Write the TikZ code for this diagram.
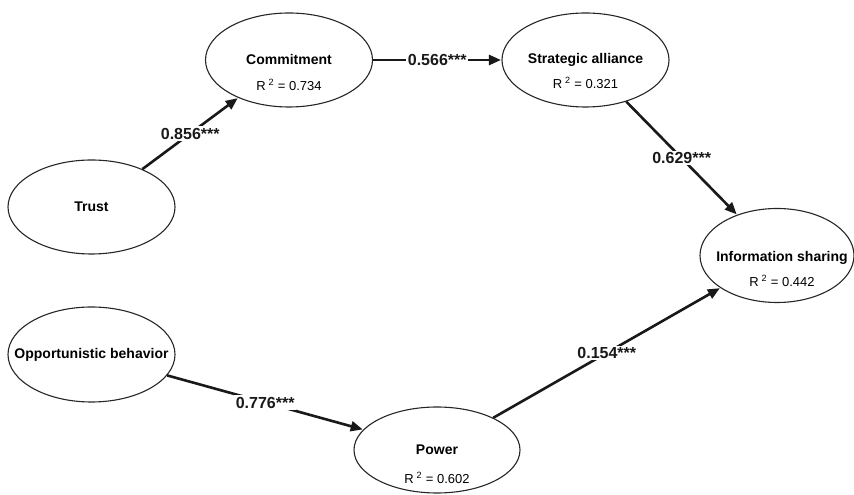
\documentclass[tikz,border=0pt]{standalone}
\usepackage{fontspec}
\setmainfont{Liberation Sans}
\usetikzlibrary{arrows.meta,shapes.geometric}

\tikzset{
  latent/.style={ellipse, draw=black!85, line width=1.1pt, inner sep=0pt,
    minimum width=167pt, minimum height=94pt, font=\bfseries\fontsize{14}{16}\selectfont},
  rsq/.style={inner sep=0pt, font=\fontsize{13}{15}\selectfont},
  path/.style={line width=2.6pt, draw=black!90,
    -{Triangle[length=12pt,width=10pt]}, shorten >=0.5pt},
  coef/.style={fill=white, inner sep=1.5pt, text=black!90,
    font=\bfseries\fontsize{16}{18}\selectfont}
}

\begin{document}
\begin{tikzpicture}[x=1pt,y=1pt]
  \useasboundingbox (0,0) rectangle (854,495);
  \clip (0,0) rectangle (854,495);

  % latent constructs
  \node[latent] (commit) at (289,435)   {\makebox[0pt]{Commitment}};
  \node[latent] (strat)  at (585.5,435) {\makebox[0pt]{Strategic alliance}};
  \node[latent] (trust)  at (91.5,288)  {\makebox[0pt]{Trust}};
  \node[latent, minimum width=154pt] (info) at (777,239.5) {};
  \node[latent, minimum width=167pt, minimum height=95pt] (opp) at (91.5,140.5)
        {\makebox[0pt]{Opportunistic behavior}};
  \node[latent, minimum width=166pt, minimum height=86pt] (power) at (437,45)
        {\makebox[0pt]{Power}};

  \node[inner sep=0pt, font=\bfseries\fontsize{14}{16}\selectfont] (infoname)
        at (782,237) {Information sharing};

  % explained variance
  \node[rsq] (commitR) at (289,410)   {R\hspace{3pt}\textsuperscript{2} = 0.734};
  \node[rsq] (stratR)  at (585.5,412) {R\hspace{3pt}\textsuperscript{2} = 0.321};
  \node[rsq] (infoR)   at (782,214)   {R\hspace{3pt}\textsuperscript{2} = 0.442};
  \node[rsq] (powerR)  at (437,17)    {R\hspace{3pt}\textsuperscript{2} = 0.602};

  % structural paths
  \draw[path] (trust)  -- node[coef] (c1) {0.856***} (commit);
  \draw[path] (commit) -- node[coef] (c2) {0.566***} (strat);
  \draw[path] (strat)  -- node[coef] (c3) {0.629***} (info);
  \draw[path] (opp)    -- node[coef] (c4) {0.776***} (power);
  \draw[path] (power)  -- node[coef] (c5) {0.154***} (info);
\end{tikzpicture}
\end{document}
